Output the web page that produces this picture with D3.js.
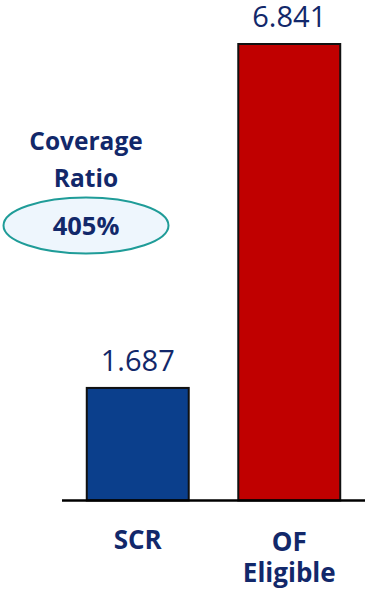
<!DOCTYPE html>
<html>
<head>
<meta charset="utf-8">
<script src="https://cdn.jsdelivr.net/npm/d3@7"></script>
<style>
  html, body { margin: 0; padding: 0; background: #fff; }
  svg { display: block; }
</style>
</head>
<body>
<svg id="chart" width="365" height="591"></svg>
<script>
// Chart data
const categories = ["SCR", "OF Eligible"];
const values = [1.687, 6.841];
const valueLabels = ["1.687", "6.841"];
const barColors = ["#0b3f8c", "#c00000"];
const ratioTitle = ["Coverage", "Ratio"];
const ratioValue = "405%";

const navy = "#12286a";
const font = "'Open Sans', sans-serif";
const svg = d3.select("#chart");

const x = d3.scaleBand()
  .domain(categories)
  .range([62, 365])
  .paddingInner(0.327)
  .paddingOuter(0.1635);

const y = d3.scaleLinear()
  .domain([0, d3.max(values)])
  .range([500.5, 44]);

const data = categories.map((c, i) => ({ c, v: values[i], label: valueLabels[i], color: barColors[i] }));

// Bars
svg.selectAll("rect.bar")
  .data(data)
  .join("rect")
  .attr("class", "bar")
  .attr("x", d => x(d.c))
  .attr("y", d => y(d.v))
  .attr("width", x.bandwidth())
  .attr("height", d => y(0) - y(d.v))
  .attr("fill", d => d.color)
  .attr("stroke", "#111")
  .attr("stroke-width", 2);

// Baseline
svg.append("line")
  .attr("x1", 62).attr("x2", 365)
  .attr("y1", y(0)).attr("y2", y(0))
  .attr("stroke", "#000")
  .attr("stroke-width", 2.5);

// Value labels above bars
svg.selectAll("text.val")
  .data(data)
  .join("text")
  .attr("class", "val")
  .attr("x", d => x(d.c) + x.bandwidth() / 2)
  .attr("y", d => y(d.v) - 17)
  .attr("text-anchor", "middle")
  .attr("font-family", font)
  .attr("font-size", 29)
  .attr("fill", navy)
  .text(d => d.label);

// Category labels, one word per line
const catBase = [549, 551];
svg.selectAll("text.cat")
  .data(data)
  .join("text")
  .attr("class", "cat")
  .attr("text-anchor", "middle")
  .attr("font-family", font)
  .attr("font-weight", "bold")
  .attr("font-size", 26)
  .attr("fill", navy)
  .each(function(d, j) {
    const t = d3.select(this);
    d.c.split(" ").forEach((w, i) => {
      t.append("tspan")
        .attr("x", x(d.c) + x.bandwidth() / 2)
        .attr("y", catBase[j] + i * 31)
        .text(w);
    });
  });

// Coverage ratio callout
const cx = 86;
svg.selectAll("text.title")
  .data(ratioTitle)
  .join("text")
  .attr("class", "title")
  .attr("x", cx)
  .attr("y", (d, i) => 150 + i * 37)
  .attr("text-anchor", "middle")
  .attr("font-family", font)
  .attr("font-weight", "bold")
  .attr("font-size", 24.5)
  .attr("fill", navy)
  .text(d => d);

svg.append("ellipse")
  .attr("cx", cx).attr("cy", 225.5)
  .attr("rx", 82.5).attr("ry", 28)
  .attr("fill", "#eef6fd")
  .attr("stroke", "#1f9c98")
  .attr("stroke-width", 2);

svg.append("text")
  .attr("x", cx).attr("y", 235)
  .attr("text-anchor", "middle")
  .attr("font-family", font)
  .attr("font-weight", "bold")
  .attr("font-size", 25.5)
  .attr("fill", navy)
  .text(ratioValue);
</script>
</body>
</html>
